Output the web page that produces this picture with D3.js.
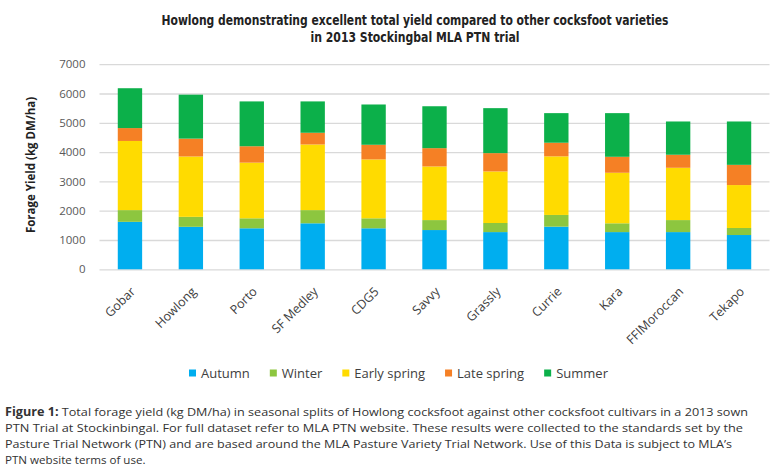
<!DOCTYPE html>
<html>
<head>
<meta charset="utf-8">
<script src="https://cdn.jsdelivr.net/npm/d3@7"></script>
<style>
  body { margin: 0; background: #fff; }
  svg { display: block; }
</style>
</head>
<body>
<script>

var varieties = ["Gobar", "Howlong", "Porto", "SF Medley", "CDG5", "Savvy", "Grassly", "Currie", "Kara", "FFIMoroccan", "Tekapo"];
var seasons = ["Autumn", "Winter", "Early spring", "Late spring", "Summer"];

var autumn      = [1620, 1450, 1400, 1570, 1400, 1340, 1270, 1455, 1270, 1270, 1170];
var winter      = [ 400,  340,  340,  450,  340,  340,  310,  400,  300,  410,  240];
var earlySpring = [2360, 2060, 1900, 2240, 2010, 1830, 1760, 2000, 1725, 1785, 1465];
var lateSpring  = [ 440,  610,  560,  400,  500,  625,  625,  465,  545,  445,  690];
var summer      = [1360, 1500, 1530, 1070, 1375, 1430, 1535, 1010, 1490, 1135, 1480];

var yTicks = [0, 1000, 2000, 3000, 4000, 5000, 6000, 7000];

var color = d3.scaleOrdinal()
    .domain(seasons)
    .range(["#00aeef", "#8dc63f", "#ffdb00", "#f58025", "#0cb04a"]);

var width = 780, height = 474;

// rows for the stack
var table = varieties.map(function(v, i) {
  return {
    variety: v,
    "Autumn": autumn[i],
    "Winter": winter[i],
    "Early spring": earlySpring[i],
    "Late spring": lateSpring[i],
    "Summer": summer[i]
  };
});

var stack = d3.stack().keys(seasons);
var layers = stack(table);

var x = d3.scaleBand()
    .domain(varieties)
    .range([99.5, 769.5])
    .paddingInner(0.6)
    .paddingOuter(0.3);

var y = d3.scaleLinear()
    .domain([0, 7000])
    .range([269.3, 64.2]);

var svg = d3.select("body").append("svg")
    .attr("width", width)
    .attr("height", height);

// title (condensed look via textLength)
var titleLines = [
  {text: "Howlong demonstrating excellent total yield compared to other cocksfoot varieties", len: 507, y: 25},
  {text: "in 2013 Stockingbal MLA PTN trial", len: 209, y: 42}
];
svg.selectAll(".title")
    .data(titleLines)
  .enter().append("text")
    .attr("class", "title")
    .attr("x", 415)
    .attr("y", function(d) { return d.y; })
    .attr("text-anchor", "middle")
    .attr("textLength", function(d) { return d.len; })
    .attr("lengthAdjust", "spacingAndGlyphs")
    .style("font-family", "'DejaVu Sans Condensed', 'Open Sans', sans-serif")
    .style("font-weight", "bold")
    .style("font-size", "13.5px")
    .style("fill", "#222")
    .text(function(d) { return d.text; });

// gridlines
var yAxis = d3.axisLeft(y)
    .tickValues(yTicks)
    .tickSize(-(769.5 - 99.5))
    .tickPadding(14)
    .tickFormat(d3.format("d"));

var gy = svg.append("g")
    .attr("transform", "translate(99.5,0)")
    .call(yAxis);

gy.select(".domain").remove();
gy.selectAll(".tick line")
    .attr("stroke", "#d9d9d9")
    .attr("stroke-width", 1.3);
gy.selectAll(".tick text")
    .style("font-family", "'Open Sans', sans-serif")
    .style("font-size", "11.5px")
    .style("fill", "#595959");

// bars
var layer = svg.selectAll(".layer")
    .data(layers)
  .enter().append("g")
    .attr("class", "layer")
    .style("fill", function(d) { return color(d.key); });

layer.selectAll("rect")
    .data(function(d) { return d; })
  .enter().append("rect")
    .attr("x", function(d) { return x(d.data.variety); })
    .attr("width", x.bandwidth())
    .attr("y", function(d) { return y(d[1]); })
    .attr("height", function(d) { return y(d[0]) - y(d[1]); });

// x labels
var xAxis = d3.axisBottom(x).tickSize(0).tickPadding(0);
var gx = svg.append("g")
    .attr("transform", "translate(0,269.3)")
    .call(xAxis);
gx.select(".domain").remove();
gx.selectAll(".tick text")
    .attr("text-anchor", "end")
    .attr("y", 0)
    .attr("dy", "0.35em")
    .attr("transform", "translate(3,20) rotate(-45)")
    .style("font-family", "'Open Sans', sans-serif")
    .style("font-size", "12.5px")
    .style("fill", "#404040");

// y label
svg.append("text")
    .attr("transform", "translate(35,165) rotate(-90)")
    .attr("text-anchor", "middle")
    .style("font-family", "'Open Sans', sans-serif")
    .style("font-weight", "bold")
    .style("font-size", "11.5px")
    .style("fill", "#222")
    .text("Forage Yield (kg DM/ha)");

// legend
var legend = svg.append("g").attr("transform", "translate(189,373)");
var lx = 0;
seasons.forEach(function(s) {
  var item = legend.append("g").attr("transform", "translate(" + lx + ",0)");
  item.append("rect")
      .attr("x", 0).attr("y", -3.5)
      .attr("width", 7).attr("height", 7)
      .style("fill", color(s));
  var t = item.append("text")
      .attr("x", 12).attr("dy", "0.35em")
      .style("font-family", "'Open Sans', sans-serif")
      .style("font-size", "13px")
      .style("fill", "#404040")
      .text(s);
  lx += 12 + t.node().getComputedTextLength() + 20;
});

// caption
var captionLines = [
  ["Figure 1:", " Total forage yield (kg DM/ha) in seasonal splits of Howlong cocksfoot against other cocksfoot cultivars in a 2013 sown", 743],
  ["", "PTN Trial at Stockinbingal. For full dataset refer to MLA PTN website. These results were collected to the standards set by the", 738],
  ["", "Pasture Trial Network (PTN) and are based around the MLA Pasture Variety Trial Network. Use of this Data is subject to MLA\u2019s", 727],
  ["", "PTN website terms of use.", 0]
];
captionLines.forEach(function(l, i) {
  var t = svg.append("text")
      .attr("x", 5)
      .attr("y", 416 + i * 16)
      .style("font-family", "'Open Sans', sans-serif")
      .style("font-size", "11.6px")
      .style("fill", "#333");
  if (l[2]) t.attr("textLength", l[2]).attr("lengthAdjust", "spacingAndGlyphs");
  if (l[0]) t.append("tspan").style("font-weight", "bold").text(l[0]);
  t.append("tspan").text(l[1]);
});

</script>
</body>
</html>
